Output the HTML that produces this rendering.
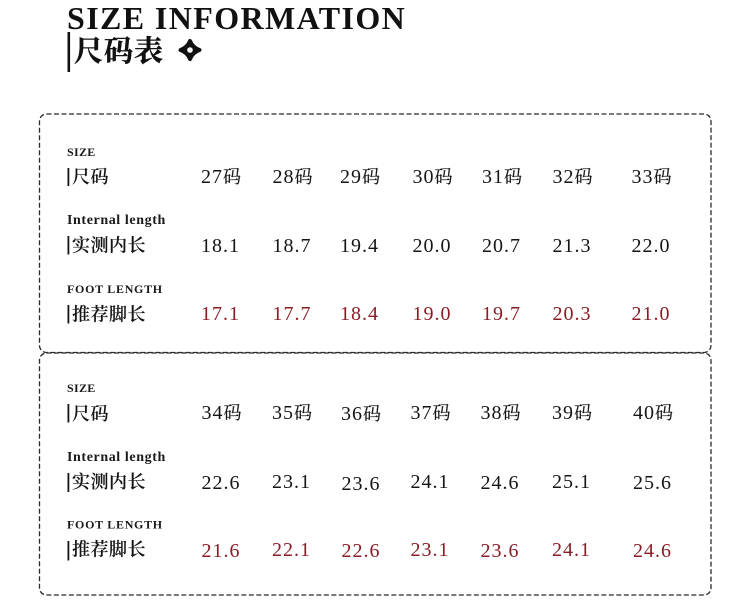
<!DOCTYPE html>
<html>
<head>
<meta charset="utf-8">
<style>
html,body{margin:0;padding:0;background:#fff;}
svg{display:block;}
.t{font-family:"Liberation Serif","Noto Serif CJK SC",serif;}
.cj{font-family:"Liberation Serif","Noto Serif CJK SC",serif;font-size:18px;font-weight:600;fill:#141414;stroke:#141414;stroke-width:0.1px;letter-spacing:0.5px;}
.en{font-family:"Liberation Serif",serif;font-weight:bold;fill:#1a1a1a;}
.v{font-family:"Liberation Serif","Noto Serif CJK SC",serif;font-size:20px;letter-spacing:1px;fill:#151515;}
.r{fill:#8b1c24;}
.m{font-size:18px;letter-spacing:0;stroke-width:0.2px;}
.v .m{stroke:#151515;}
.v .r .m{stroke:#8b1c24;}
</style>
</head>
<body>
<svg width="750" height="602" viewBox="0 0 750 602" xmlns="http://www.w3.org/2000/svg">
<rect width="750" height="602" fill="#fff"/>
<!-- Title -->
<text x="67" y="29" class="t" font-size="32" font-weight="bold" letter-spacing="1.4" fill="#111">SIZE INFORMATION</text>
<rect x="67.5" y="32" width="2.6" height="40" fill="#111"/>
<text x="74" y="61" class="t" font-size="29" font-weight="bold" letter-spacing="1" fill="#111" stroke="#111" stroke-width="0.4">尺码表</text>
<!-- icon -->
<path d="M190,41 Q192.5,47.5 199.5,50 Q192.5,52.5 190,59 Q187.5,52.5 180.5,50 Q187.5,47.5 190,41 Z" fill="#111" stroke="#111" stroke-width="4" stroke-linejoin="round"/>
<circle cx="190" cy="50" r="2.8" fill="#fff"/>

<!-- Boxes -->
<g fill="none" stroke="#2a2a2a" stroke-width="1.3" stroke-dasharray="5,2.5">
<rect x="39.5" y="114" width="671.5" height="238.5" rx="7" ry="7"/>
<rect x="39.5" y="353" width="671.5" height="242" rx="7" ry="7"/>
</g>

<!-- Upper box labels -->
<text x="67" y="156" class="en" font-size="12" letter-spacing="0.3">SIZE</text>
<rect x="67.5" y="168" width="1.8" height="18" fill="#141414"/>
<text x="72" y="183" class="cj">尺码</text>
<text x="67" y="224" class="en" font-size="14" letter-spacing="0.6">Internal length</text>
<rect x="67.5" y="236" width="1.8" height="18.5" fill="#141414"/>
<text x="72" y="251.5" class="cj">实测内长</text>
<text x="67" y="293" class="en" font-size="12" letter-spacing="0.7">FOOT LENGTH</text>
<rect x="67.5" y="305" width="1.8" height="18.5" fill="#141414"/>
<text x="72" y="320.5" class="cj">推荐脚长</text>

<!-- Upper values -->
<g class="v">
<text x="201" y="183">27<tspan class="m">码</tspan></text>
<text x="272.5" y="183">28<tspan class="m">码</tspan></text>
<text x="340" y="183">29<tspan class="m">码</tspan></text>
<text x="412.5" y="183">30<tspan class="m">码</tspan></text>
<text x="482" y="183">31<tspan class="m">码</tspan></text>
<text x="552.5" y="183">32<tspan class="m">码</tspan></text>
<text x="631.5" y="183">33<tspan class="m">码</tspan></text>

<text x="201" y="252">18.1</text>
<text x="272.5" y="252">18.7</text>
<text x="340" y="252">19.4</text>
<text x="412.5" y="252">20.0</text>
<text x="482" y="252">20.7</text>
<text x="552.5" y="252">21.3</text>
<text x="631.5" y="252">22.0</text>
</g>
<g class="v">
<text class="r" x="201" y="320">17.1</text>
<text class="r" x="272.5" y="320">17.7</text>
<text class="r" x="340" y="320">18.4</text>
<text class="r" x="412.5" y="320">19.0</text>
<text class="r" x="482" y="320">19.7</text>
<text class="r" x="552.5" y="320">20.3</text>
<text class="r" x="631.5" y="320">21.0</text>
</g>

<!-- Lower box labels -->
<text x="67" y="392" class="en" font-size="12" letter-spacing="0.3">SIZE</text>
<rect x="67.5" y="404" width="1.8" height="18.5" fill="#141414"/>
<text x="72" y="420" class="cj">尺码</text>
<text x="67" y="461" class="en" font-size="14" letter-spacing="0.6">Internal length</text>
<rect x="67.5" y="473" width="1.8" height="19" fill="#141414"/>
<text x="72" y="488" class="cj">实测内长</text>
<text x="67" y="528.5" class="en" font-size="12" letter-spacing="0.7">FOOT LENGTH</text>
<rect x="67.5" y="541" width="1.8" height="19.5" fill="#141414"/>
<text x="72" y="555.5" class="cj">推荐脚长</text>

<!-- Lower values -->
<g class="v">
<text x="201.5" y="419">34<tspan class="m">码</tspan></text>
<text x="272" y="419">35<tspan class="m">码</tspan></text>
<text x="341" y="420">36<tspan class="m">码</tspan></text>
<text x="410.5" y="419">37<tspan class="m">码</tspan></text>
<text x="480.5" y="419">38<tspan class="m">码</tspan></text>
<text x="552" y="419">39<tspan class="m">码</tspan></text>
<text x="633" y="419">40<tspan class="m">码</tspan></text>

<text x="201.5" y="489">22.6</text>
<text x="272" y="488">23.1</text>
<text x="341.5" y="490">23.6</text>
<text x="410.5" y="488">24.1</text>
<text x="480.5" y="489">24.6</text>
<text x="552" y="488">25.1</text>
<text x="633" y="489">25.6</text>
</g>
<g class="v">
<text class="r" x="201.5" y="557">21.6</text>
<text class="r" x="272" y="556">22.1</text>
<text class="r" x="341.5" y="557">22.6</text>
<text class="r" x="410.5" y="556">23.1</text>
<text class="r" x="480.5" y="557">23.6</text>
<text class="r" x="552" y="556">24.1</text>
<text class="r" x="633" y="557">24.6</text>
</g>
</svg>
</body>
</html>
